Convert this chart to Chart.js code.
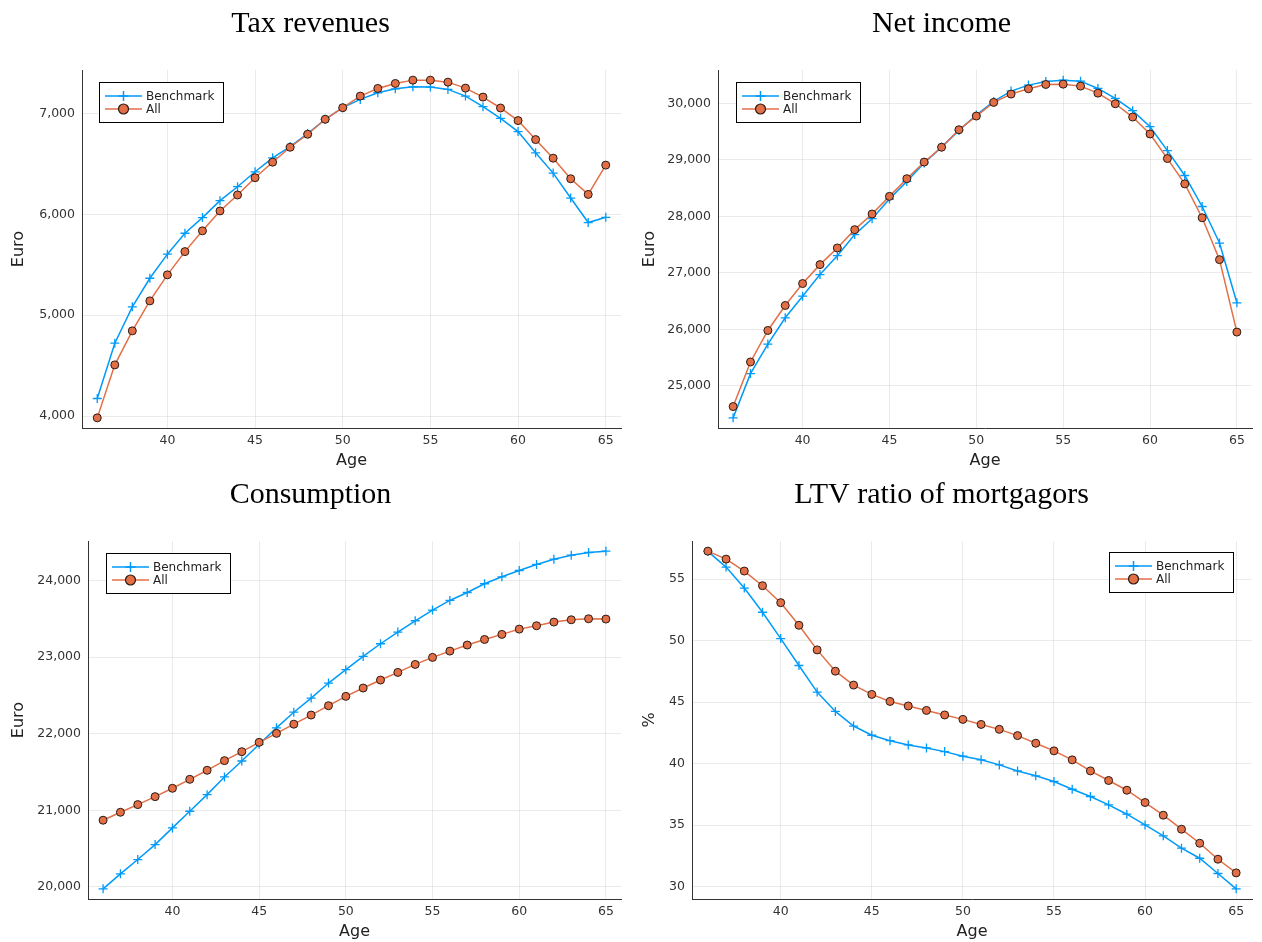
<!DOCTYPE html>
<html>
<head>
<meta charset="utf-8">
<script src="https://cdn.jsdelivr.net/npm/chart.js@4.4.1/dist/chart.umd.min.js"></script>
<style>
  body { margin: 0; background: #fff; }
  #wrap { position: relative; width: 1262px; height: 942px; }
  .panel { position: absolute; width: 631px; height: 471px; }
</style>
</head>
<body>
<div id="wrap">
  <div class="panel" style="left:0;top:0"><canvas id="c1" width="631" height="471"></canvas></div>
  <div class="panel" style="left:631px;top:0"><canvas id="c2" width="631" height="471"></canvas></div>
  <div class="panel" style="left:0;top:471px"><canvas id="c3" width="631" height="471"></canvas></div>
  <div class="panel" style="left:631px;top:471px"><canvas id="c4" width="631" height="471"></canvas></div>
</div>
<script>
// Datos (edad 36..65)
const ages = [36, 37, 38, 39, 40, 41, 42, 43, 44, 45, 46, 47, 48, 49, 50,
              51, 52, 53, 54, 55, 56, 57, 58, 59, 60, 61, 62, 63, 64, 65];
const ageTicks = [40, 45, 50, 55, 60, 65];

const taxBenchmark = [4175, 4723, 5083, 5366, 5605, 5812, 5967, 6135, 6273, 6421, 6559, 6671, 6800, 6941, 7056,
                      7138, 7204, 7243, 7263, 7260, 7237, 7171, 7066, 6951, 6819, 6609, 6408, 6161, 5918, 5970];
const taxAll = [3983, 4508, 4845, 5142, 5400, 5630, 5836, 6033, 6191, 6362, 6516, 6664, 6793, 6941, 7056,
                7171, 7247, 7296, 7329, 7329, 7309, 7250, 7161, 7053, 6928, 6740, 6556, 6352, 6197, 6487];
const taxTicks = [4000, 5000, 6000, 7000];

const incomeBenchmark = [24435, 25218, 25741, 26206, 26588, 26971, 27306, 27678, 27960, 28308, 28620, 28945, 29227, 29522, 29794,
                         30035, 30218, 30324, 30388, 30412, 30394, 30265, 30088, 29871, 29588, 29165, 28724, 28176, 27529, 26471];
const incomeAll = [24635, 25424, 25982, 26424, 26812, 27147, 27442, 27766, 28043, 28355, 28668, 28962, 29225, 29534, 29776,
                   30018, 30165, 30259, 30335, 30341, 30306, 30182, 29994, 29759, 29459, 29024, 28576, 27976, 27235, 25953];
const incomeTicks = [25000, 26000, 27000, 28000, 29000, 30000];

const consBenchmark = [19974, 20170, 20357, 20552, 20770, 20987, 21204, 21435, 21643, 21861, 22076, 22280, 22465, 22661, 22835,
                       23009, 23174, 23326, 23474, 23613, 23739, 23843, 23957, 24048, 24130, 24209, 24278, 24330, 24365, 24383];
const consAll = [20870, 20974, 21074, 21178, 21287, 21404, 21522, 21648, 21765, 21887, 22004, 22124, 22243, 22365, 22487,
                 22596, 22700, 22800, 22904, 22996, 23078, 23157, 23230, 23296, 23365, 23409, 23457, 23487, 23500, 23496];
const consTicks = [20000, 21000, 22000, 23000, 24000];

const ltvBenchmark = [57.25, 55.97, 54.27, 52.30, 50.16, 47.97, 45.81, 44.24, 43.05, 42.30, 41.86, 41.51, 41.27, 40.97, 40.60,
                      40.30, 39.89, 39.40, 39.00, 38.54, 37.91, 37.32, 36.64, 35.88, 35.01, 34.12, 33.12, 32.30, 31.06, 29.81];
const ltvAll = [57.27, 56.62, 55.65, 54.46, 53.08, 51.24, 49.24, 47.51, 46.38, 45.62, 45.05, 44.68, 44.32, 43.95, 43.59,
                43.18, 42.78, 42.27, 41.65, 41.03, 40.30, 39.40, 38.62, 37.83, 36.83, 35.80, 34.66, 33.52, 32.22, 31.11];
const ltvTicks = [30, 35, 40, 45, 50, 55];

const seriesNames = ['Benchmark', 'All'];

const BLUE = '#009af9';
const ORANGE = '#e26f46';
const SANS = '"DejaVu Sans", sans-serif';

// Leyenda con recuadro, línea y marcador (estilo Plots.jl)
const legendBox = {
    id: 'legendBox',
    afterDraw(chart, args, opts) {
        const ctx = chart.ctx;
        const area = chart.chartArea;
        const w = 124, h = 40;
        const x = opts.side === 'right' ? area.right - opts.dx - w : area.left + opts.dx;
        const y = area.top + opts.dy;
        ctx.save();
        ctx.fillStyle = '#fff';
        ctx.fillRect(x, y, w, h);
        ctx.strokeStyle = '#000';
        ctx.lineWidth = 1;
        ctx.strokeRect(x + 0.5, y + 0.5, w, h);
        chart.data.datasets.forEach((ds, i) => {
            const cy = y + 14 + i * 13;
            ctx.strokeStyle = ds.borderColor;
            ctx.lineWidth = 1.5;
            ctx.beginPath();
            ctx.moveTo(x + 6, cy);
            ctx.lineTo(x + 43, cy);
            ctx.stroke();
            const cx = x + 24.5;
            if (ds.pointStyle === 'cross') {
                ctx.beginPath();
                ctx.moveTo(cx - 5, cy); ctx.lineTo(cx + 5, cy);
                ctx.moveTo(cx, cy - 5); ctx.lineTo(cx, cy + 5);
                ctx.stroke();
            } else {
                ctx.beginPath();
                ctx.arc(cx, cy, 5, 0, Math.PI * 2);
                ctx.fillStyle = ds.pointBackgroundColor;
                ctx.fill();
                ctx.strokeStyle = ds.pointBorderColor;
                ctx.lineWidth = 1.2;
                ctx.stroke();
            }
            ctx.fillStyle = '#222';
            ctx.font = '12px ' + SANS;
            ctx.textBaseline = 'middle';
            ctx.textAlign = 'left';
            ctx.fillText(ds.label, x + 47, cy + 0.5);
        });
        ctx.restore();
    }
};

function rangeOf(a, b) {
    const lo = Math.min(...a, ...b), hi = Math.max(...a, ...b);
    const pad = (hi - lo) * 0.03;
    return [lo - pad, hi + pad];
}

function makePanel(id, title, yTitle, bench, all, yTicks, fmt, yWidth, legend) {
    const [ymin, ymax] = rangeOf(bench, all);
    const xpad = (ages[ages.length - 1] - ages[0]) * 0.03;
    const toXY = vals => ages.map((a, i) => ({ x: a, y: vals[i] }));
    return new Chart(document.getElementById(id), {
        type: 'line',
        data: {
            datasets: [
                {
                    label: seriesNames[0],
                    data: toXY(bench),
                    borderColor: BLUE,
                    backgroundColor: BLUE,
                    borderWidth: 1.5,
                    pointStyle: 'cross',
                    pointRadius: 4.5,
                    pointBorderColor: BLUE,
                    pointBorderWidth: 1.3,
                    tension: 0,
                    order: 1
                },
                {
                    label: seriesNames[1],
                    data: toXY(all),
                    borderColor: ORANGE,
                    backgroundColor: ORANGE,
                    borderWidth: 1.5,
                    pointStyle: 'circle',
                    pointRadius: 4,
                    pointBackgroundColor: ORANGE,
                    pointBorderColor: '#2a1a14',
                    pointBorderWidth: 1,
                    tension: 0,
                    order: 0
                }
            ]
        },
        options: {
            responsive: false,
            animation: false,
            devicePixelRatio: 1,
            layout: { padding: { left: 0, right: 10, top: 0, bottom: 0 } },
            plugins: {
                legend: { display: false },
                tooltip: { enabled: false },
                title: {
                    display: true,
                    text: title,
                    color: '#000',
                    font: { family: '"Liberation Serif", serif', size: 30, weight: 'normal', lineHeight: 1.2 },
                    padding: { top: 6, bottom: 28 }
                },
                legendBox: legend
            },
            scales: {
                x: {
                    type: 'linear',
                    position: 'bottom',
                    min: ages[0] - xpad,
                    max: ages[ages.length - 1] + xpad,
                    afterBuildTicks: s => { s.ticks = ageTicks.map(v => ({ value: v })); },
                    afterFit: s => { s.height = 43; },
                    grid: { color: 'rgba(0,0,0,0.08)', drawTicks: false },
                    border: { color: '#333', width: 1 },
                    ticks: { color: '#333', font: { family: SANS, size: 12.5 }, padding: 5, maxRotation: 0 },
                    title: { display: true, text: 'Age', color: '#222', font: { family: SANS, size: 16, lineHeight: 1.2 }, padding: { top: 0, bottom: 1 } }
                },
                y: {
                    type: 'linear',
                    position: 'left',
                    min: ymin,
                    max: ymax,
                    afterBuildTicks: s => { s.ticks = yTicks.map(v => ({ value: v })); },
                    afterFit: s => { s.width = yWidth; },
                    grid: { color: 'rgba(0,0,0,0.08)', drawTicks: false },
                    border: { color: '#333', width: 1 },
                    ticks: { color: '#333', font: { family: SANS, size: 12.5 }, padding: 7, callback: fmt },
                    title: { display: true, text: yTitle, color: '#222', font: { family: SANS, size: 16, lineHeight: 1.2 }, padding: { top: 9, bottom: 0 } }
                }
            }
        },
        plugins: [legendBox]
    });
}

const euro = v => v.toLocaleString('en-US');
const plain = v => String(v);

makePanel('c1', 'Tax revenues', 'Euro', taxBenchmark, taxAll, taxTicks, euro, 82, { side: 'left', dx: 17, dy: 12 });
makePanel('c2', 'Net income', 'Euro', incomeBenchmark, incomeAll, incomeTicks, euro, 87, { side: 'left', dx: 18, dy: 12 });
makePanel('c3', 'Consumption', 'Euro', consBenchmark, consAll, consTicks, euro, 88, { side: 'left', dx: 18, dy: 12 });
makePanel('c4', 'LTV ratio of mortgagors', '%', ltvBenchmark, ltvAll, ltvTicks, plain, 61, { side: 'right', dx: 19, dy: 11 });
</script>
</body>
</html>
